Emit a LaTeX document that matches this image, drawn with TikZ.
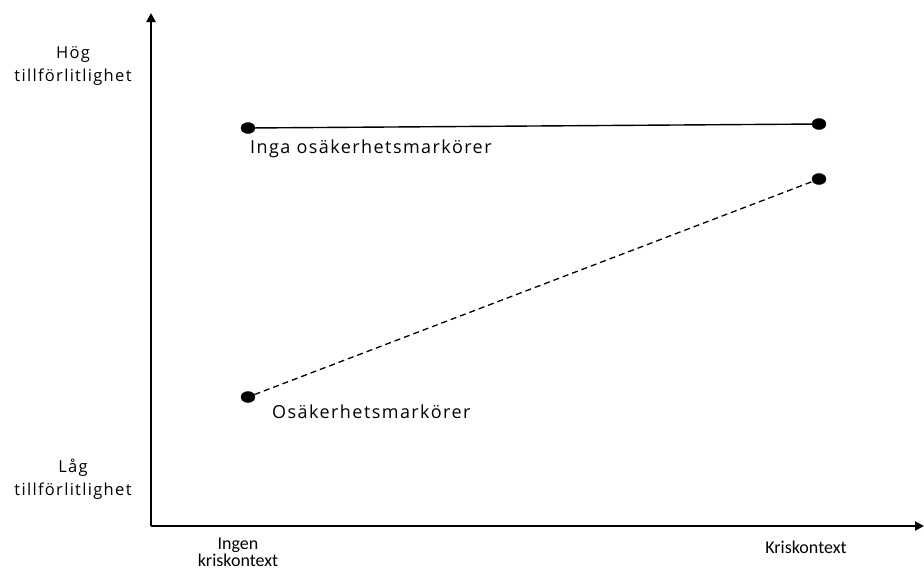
\documentclass[tikz,border=0pt]{standalone}
\usepackage{fontspec}
\setmainfont{Open Sans}[LetterSpace=8]
\newfontfamily\axisfont{Carlito}
\usetikzlibrary{arrows.meta,shapes.geometric}

\begin{document}
\begin{tikzpicture}[
		x=1pt, y=-1pt,
		font=\fontsize{18}{23}\selectfont,
		axis/.style={line width=2.4pt, -{Triangle[length=9pt,width=9pt]}},
		dot/.style={draw, fill=black, ellipse, inner sep=0pt, minimum width=14pt, minimum height=11pt},
		lbl/.style={align=center, inner sep=0pt},
		ylbl/.style={align=center, inner sep=0pt, font=\fontsize{16.5}{23}\selectfont},
		xlbl/.style={align=center, inner sep=0pt, font=\axisfont\fontsize{18}{17}\selectfont}
		]
		\useasboundingbox (0,0) rectangle (924,571);
		
		% ---- Achsen
		\coordinate (orig) at (151,526);
		\coordinate (ytop) at (151,13);
		\coordinate (xend) at (924,526);
		\draw[axis] (orig) -- (ytop);
		\draw[axis] (orig) -- (xend);
		
		% ---- Achsenbeschriftungen
		\node[ylbl] (hog) at (73,66) {Hög\\tillförlitlighet};
		\node[ylbl] (lag) at (73,479) {Låg\\tillförlitlighet};
		\node[xlbl] (ingen) at (238,552) {Ingen\\kriskontext};
		\node[xlbl] (kris) at (806,547) {Kriskontext};
		
		% ---- Punkte
		\node[dot] (a1) at (248,128) {};
		\node[dot] (a2) at (819,124) {};
		\node[dot] (b1) at (248,397) {};
		\node[dot] (b2) at (819,179) {};
		
		% ---- Linien + Labels
		\draw[line width=1.4pt] (a1) -- (a2);
		\draw[line width=1.3pt, dash pattern=on 6pt off 4pt] (b1) -- (b2);
		\node[lbl, anchor=west] (inga) at (250,149) {Inga osäkerhetsmarkörer};
		\node[lbl, anchor=west] (osak) at (272,412) {Osäkerhetsmarkörer};
\end{tikzpicture}
\end{document}
